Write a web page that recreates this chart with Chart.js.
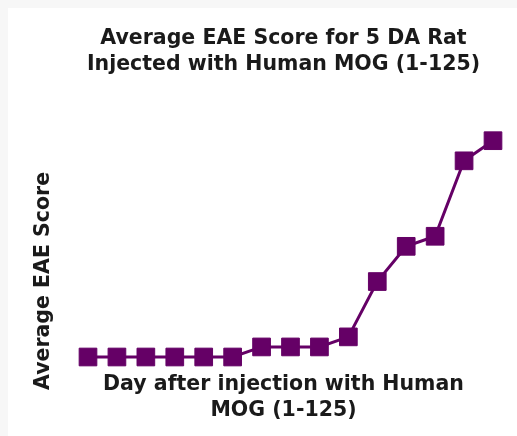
<!DOCTYPE html>
<html>
<head>
<meta charset="utf-8">
<script src="https://cdn.jsdelivr.net/npm/chart.js@4/dist/chart.umd.min.js"></script>
<style>
  html, body { margin: 0; padding: 0; background: #f7f7f7; width: 517px; height: 436px; overflow: hidden; }
  #c { position: absolute; left: 8px; top: 8px; background: #ffffff; }
</style>
</head>
<body>
<canvas id="c" width="509" height="428"></canvas>
<script>
// Data
const days = [1, 2, 3, 4, 5, 6, 7, 8, 9, 10, 11, 12, 13, 14, 15];
const avgScore = [0, 0, 0, 0, 0, 0, 0.2, 0.2, 0.2, 0.4, 1.5, 2.2, 2.4, 3.9, 4.3];
const titleLines = ['Average EAE Score for 5 DA Rat', 'Injected with Human MOG (1-125)'];
const xTitleLines = ['Day after injection with Human', 'MOG (1-125)'];
const yTitle = 'Average EAE Score';

const purple = '#650066';
const textFont = { family: "'DejaVu Sans', sans-serif", size: 20.5, weight: 'bold', lineHeight: '26px' };

new Chart(document.getElementById('c'), {
  type: 'line',
  data: {
    datasets: [{
      data: days.map((d, i) => ({ x: d, y: avgScore[i] })),
      borderColor: purple,
      backgroundColor: purple,
      borderWidth: 3,
      pointStyle: 'rect',
      pointRadius: 12.5,
      pointBorderWidth: 1,
      pointBackgroundColor: purple,
      pointBorderColor: purple,
      tension: 0,
      clip: false
    }]
  },
  options: {
    responsive: false,
    animation: false,
    layout: { padding: { left: 23, right: 24, top: 0, bottom: 0 } },
    plugins: {
      legend: { display: false },
      tooltip: { enabled: false },
      title: {
        display: true,
        fullSize: false,
        text: titleLines,
        color: '#1a1a1a',
        font: textFont,
        padding: { top: 17.3, bottom: 30.7 }
      }
    },
    scales: {
      x: {
        type: 'linear',
        min: 0.516,
        max: 15,
        grid: { display: false, drawTicks: false },
        border: { display: false },
        ticks: { display: false },
        title: {
          display: true,
          text: xTitleLines,
          color: '#1a1a1a',
          font: textFont,
          padding: { top: -18, bottom: 12 }
        }
      },
      y: {
        type: 'linear',
        min: -0.656,
        max: 4.95,
        grid: { display: false, drawTicks: false },
        border: { display: false },
        ticks: { display: false },
        title: {
          display: true,
          align: 'start',
          text: yTitle,
          color: '#1a1a1a',
          font: textFont,
          padding: { top: 0, bottom: 17 }
        }
      }
    }
  }
});
</script>
</body>
</html>
